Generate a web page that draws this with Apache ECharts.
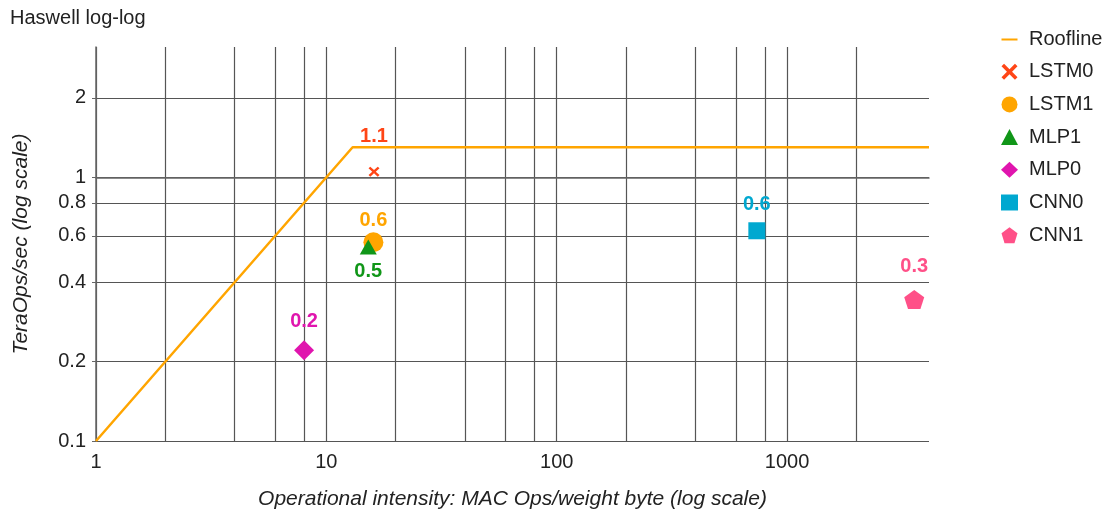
<!DOCTYPE html>
<html>
<head>
<meta charset="utf-8">
<script src="https://cdn.jsdelivr.net/npm/echarts@6/dist/echarts.min.js"></script>
<style>html,body{margin:0;padding:0;background:#fff;}#c{width:1119px;height:515px;}</style>
</head>
<body>
<div id="c"></div>
<script>
// ---- data ----
const xGridValues = [1,2,4,6,8,10,20,40,60,80,100,200,400,600,800,1000,2000];
const xLabelValues = [1,10,100,1000];
const yGridValues = [0.1,0.2,0.4,0.6,0.8,1,2];
const xRange = [1, 4130];
const yRange = [0.1, 3.12];

const rooflineX = [1, 13, 4130];
const rooflineY = [0.1, 1.3, 1.3];

const pointNames  = ['LSTM0','LSTM1','MLP1','MLP0','CNN0','CNN1'];
const pointX      = [16.1, 16.0, 15.2, 8.0, 739, 3563];
const pointY      = [1.05, 0.567, 0.544, 0.221, 0.627, 0.344];
const pointLabels = ['1.1','0.6','0.5','0.2','0.6','0.3'];

// ---- styles ----
const colors = ['#FF4516','#FFA500','#109618','#E015AE','#00A8D0','#FF5088'];
const crossPath = 'path://M0,1.6 L1.6,0 L5,3.4 L8.4,0 L10,1.6 L6.6,5 L10,8.4 L8.4,10 L5,6.6 L1.6,10 L0,8.4 L3.4,5 Z';
const pentPath = 'path://M50,0 L100,38 L81,100 L19,100 L0,38 Z';
const linePath = 'path://M0,0 L0.01,0 L0,0.01 Z M0,7.6 L16,7.6 L16,9.4 L0,9.4 Z M16,16 L15.99,16 L16,15.99 Z';
const symbols = [crossPath,'circle','triangle','diamond','rect',pentPath];
const sizes = [[11,10],20,[17,15],20,17,[20,19]];
const labelPos = ['top','top','bottom','top','top','top'];
const labelDist = [20,2,7,9,8,14];
const legendIcons = [crossPath,'circle','triangle','diamond','rect',pentPath];

const L = Math.log10;
const font = "'Liberation Sans', Arial, sans-serif";
const chart = echarts.init(document.getElementById('c'), null, {renderer:'canvas'});

const series = [{
  name:'Roofline', type:'line', symbol:'none', z:3,
  lineStyle:{color:'#FFA500', width:2.5},
  itemStyle:{color:'#FFA500'},
  data: rooflineX.map((x,i)=>[L(x), L(rooflineY[i])])
}];
pointNames.forEach((n,i)=>{
  series.push({
    name:n, type:'scatter', z:4,
    symbol:symbols[i], symbolSize:sizes[i],
    itemStyle:{color:colors[i], opacity:1},
    label:{show:true, position:labelPos[i], distance:labelDist[i],
      formatter:()=>pointLabels[i], color:colors[i], fontWeight:'bold',
      fontSize:20, fontFamily:font},
    data:[[L(pointX[i]), L(pointY[i])]]
  });
});

const fmt = v => { const r = Math.pow(10, v); return String(parseFloat(r.toPrecision(2))); };

chart.setOption({
  animation:false,
  title:{text:'Haswell log-log', left:5, top:3,
    textStyle:{fontSize:20, fontWeight:'normal', color:'#222', fontFamily:font}},
  legend:{
    orient:'vertical', left:996, top:24, itemGap:12.7, itemWidth:17, itemHeight:16,
    textStyle:{fontSize:20, color:'#222', fontFamily:font, padding:[0,0,0,6]},
    data:[{name:'Roofline', icon:linePath, itemStyle:{color:'#FFA500', borderWidth:0}}].concat(
      pointNames.map((n,i)=>({name:n, icon:legendIcons[i]})))
  },
  grid:{left:96, right:190, top:47, bottom:72, containLabel:false},
  xAxis:{
    type:'value', min:L(xRange[0]), max:L(xRange[1]),
    name:'Operational intensity: MAC Ops/weight byte (log scale)',
    nameLocation:'middle', nameGap:48,
    nameTextStyle:{fontSize:21, fontStyle:'italic', color:'#222', fontFamily:font},
    axisLine:{show:true, lineStyle:{color:'#666', width:1.5}},
    axisTick:{show:false, customValues:xGridValues.map(L)},
    splitLine:{show:true, lineStyle:{color:'#555', width:1.2}},
    axisLabel:{customValues:xLabelValues.map(L), formatter:fmt, fontSize:20, color:'#222',
      fontFamily:font, margin:11}
  },
  yAxis:{
    type:'value', min:L(yRange[0]), max:L(yRange[1]),
    name:'TeraOps/sec (log scale)', nameLocation:'middle', nameGap:64, nameRotate:90,
    nameTextStyle:{fontSize:21, fontStyle:'italic', color:'#222', fontFamily:font},
    axisLine:{show:true, lineStyle:{color:'#666', width:1.5}},
    axisTick:{show:true, length:4, customValues:yGridValues.map(L), lineStyle:{color:'#666'}},
    splitLine:{show:true, lineStyle:{color:'#555', width:1.2}},
    axisLabel:{customValues:yGridValues.map(L), formatter:fmt, fontSize:20, color:'#222',
      fontFamily:font, margin:10}
  },
  series: series
});
</script>
</body>
</html>
